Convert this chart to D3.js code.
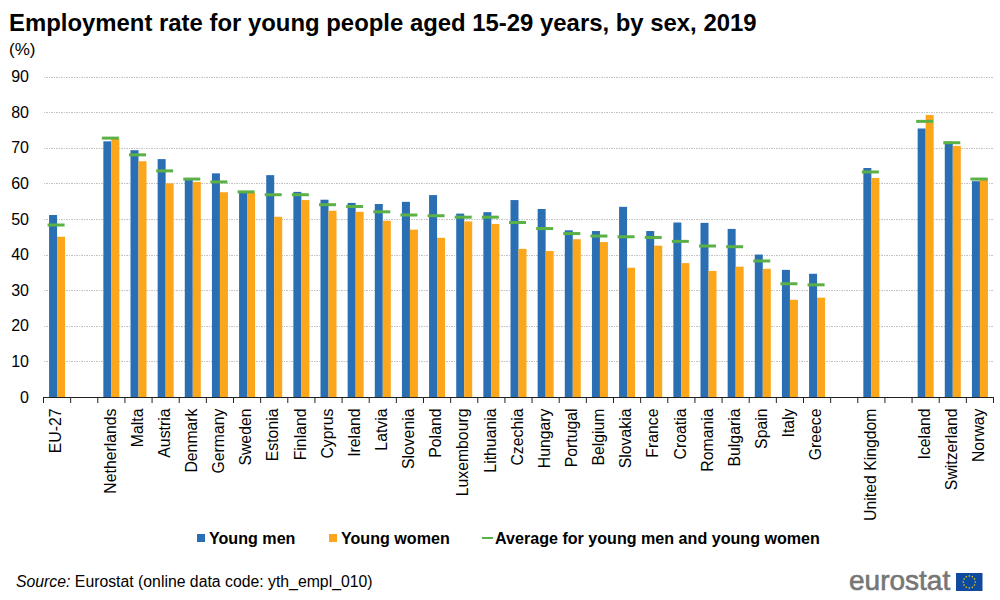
<!DOCTYPE html>
<html><head><meta charset="utf-8">
<script src="https://cdn.jsdelivr.net/npm/d3@7/dist/d3.min.js"></script>
<style>html,body{margin:0;padding:0;background:#fff}svg{display:block}text{font-family:"Liberation Sans",Arial,sans-serif;fill:#000}</style>
</head><body><svg id="c" width="1000" height="600"></svg>
<script>
const categories=["EU-27","","Netherlands","Malta","Austria","Denmark","Germany","Sweden","Estonia","Finland","Cyprus","Ireland","Latvia","Slovenia","Poland","Luxembourg","Lithuania","Czechia","Hungary","Portugal","Belgium","Slovakia","France","Croatia","Romania","Bulgaria","Spain","Italy","Greece"," ","United Kingdom","  ","Iceland","Switzerland","Norway"];
const youngMen=[51.1,null,71.8,69.3,66.8,61,62.8,57.4,62.3,57.6,55.4,54.5,54.2,54.8,56.7,51.5,51.9,55.3,52.8,46.8,46.6,53.4,46.6,49,48.9,47.2,40,35.7,34.6,null,64.3,null,75.4,71.7,60.6];
const youngWomen=[45,null,72.6,66.2,60,60.4,57.5,57.4,50.6,55.3,52.3,52,49.5,47,44.7,49.3,48.6,41.6,41,44.3,43.5,36.3,42.5,37.6,35.4,36.6,36,27.3,27.9,null,61.5,null,79.2,70.5,61.5];
const average=[48.3,null,72.7,68,63.5,61.2,60.4,57.6,56.8,56.8,54,53.5,52,51.1,50.9,50.5,50.5,49,47.3,45.9,45.2,45,44.8,43.7,42.4,42.2,38.2,31.8,31.5,null,63.2,null,77.4,71.4,61.2];
const yTicks=[0,10,20,30,40,50,60,70,80,90];
const seriesNames=["Young men","Young women","Average for young men and young women"];
const colors=["#2a6eb4","#fca61b","#5cb146"];

const svg=d3.select("#c");
const x=d3.scaleBand().domain(categories).range([43.5,993.5]);
const y=d3.scaleLinear().domain([0,90]).range([397,76.5]);
const bw=8;

svg.append("text").attr("x",9).attr("y",31).attr("font-size",23.9).attr("font-weight","bold").text("Employment rate for young people aged 15-29 years, by sex, 2019");
svg.append("text").attr("x",9).attr("y",55).attr("font-size",17).text("(%)");

const yAxis=d3.axisLeft(y).tickValues(yTicks).tickSize(-950).tickPadding(12).tickFormat(d3.format("d"));
const gy=svg.append("g").attr("transform","translate(43.5,0)").call(yAxis);
gy.select(".domain").remove();
gy.selectAll(".tick line").attr("stroke","#c4c4c4").attr("stroke-dasharray","1.5 1").attr("shape-rendering","crispEdges");
gy.selectAll(".tick text").attr("font-size",16).attr("fill","#222").attr("x",-14.5);
gy.selectAll(".tick").filter(d=>d===0).select("line").remove();

const cx=c=>x(c)+x.bandwidth()/2;
const idx=categories.map((c,i)=>i);
svg.append("g").selectAll("rect").data(idx.filter(i=>youngMen[i]!=null)).join("rect")
 .attr("x",i=>cx(categories[i])-bw).attr("width",bw).attr("y",i=>y(youngMen[i])).attr("height",i=>y(0)-y(youngMen[i])).attr("fill",colors[0]);
svg.append("g").selectAll("rect").data(idx.filter(i=>youngWomen[i]!=null)).join("rect")
 .attr("x",i=>cx(categories[i])).attr("width",bw).attr("y",i=>y(youngWomen[i])).attr("height",i=>y(0)-y(youngWomen[i])).attr("fill",colors[1]);
svg.append("g").selectAll("rect").data(idx.filter(i=>average[i]!=null)).join("rect")
 .attr("x",i=>cx(categories[i])-9.5).attr("width",17).attr("y",i=>y(average[i])-1.5).attr("height",3).attr("fill",colors[2]);

const xAxis=d3.axisBottom(x).tickSize(0).tickPadding(0).tickFormat(d=>d.trim());
const gx=svg.append("g").attr("transform","translate(0,397.5)").call(xAxis);
gx.select(".domain").remove();
gx.selectAll(".tick text").attr("font-size",15.8).attr("fill","#222").attr("text-anchor","end").attr("dominant-baseline","middle")
  .attr("transform","translate(0,11) rotate(-90)").attr("x",0).attr("y",0).attr("dy",null);
const sep=d3.range(categories.length+1).map(i=>43.5+i*x.bandwidth());
svg.append("g").selectAll("line").data(sep).join("line").attr("x1",d=>d).attr("x2",d=>d).attr("y1",397).attr("y2",403).attr("stroke","#222");
svg.append("line").attr("x1",43.5).attr("x2",993.5).attr("y1",397.5).attr("y2",397.5).attr("stroke","#222");

const leg=svg.append("g");
const ly=538;
leg.append("rect").attr("x",197).attr("y",ly-4).attr("width",8).attr("height",8).attr("fill",colors[0]);
leg.append("text").attr("x",209).attr("y",ly+5.5).attr("font-size",16.1).attr("font-weight","bold").text(seriesNames[0]);
leg.append("rect").attr("x",329).attr("y",ly-4).attr("width",8).attr("height",8).attr("fill",colors[1]);
leg.append("text").attr("x",341).attr("y",ly+5.5).attr("font-size",16.1).attr("font-weight","bold").text(seriesNames[1]);
leg.append("rect").attr("x",482).attr("y",ly-1).attr("width",11).attr("height",2).attr("fill",colors[2]);
leg.append("text").attr("x",495).attr("y",ly+5.5).attr("font-size",16.1).attr("font-weight","bold").text(seriesNames[2]);

const src=svg.append("text").attr("x",16).attr("y",587).attr("font-size",15.8);
src.append("tspan").attr("font-style","italic").text("Source:");
src.append("tspan").text(" Eurostat (online data code: yth_empl_010)");

svg.append("text").attr("x",849).attr("y",590).attr("font-size",28).style("fill","#767676").style("stroke","#767676").style("stroke-width",0.6).text("eurostat");
svg.append("rect").attr("x",956).attr("y",573).attr("width",26.5).attr("height",18).attr("fill","#0f4a9e");
const stars=d3.range(12).map(i=>i*Math.PI/6);
svg.append("g").selectAll("circle").data(stars).join("circle").attr("cx",a=>969.3+6*Math.cos(a)).attr("cy",a=>582+6*Math.sin(a)).attr("r",0.8).attr("fill","#f5d90a");
</script></body></html>
